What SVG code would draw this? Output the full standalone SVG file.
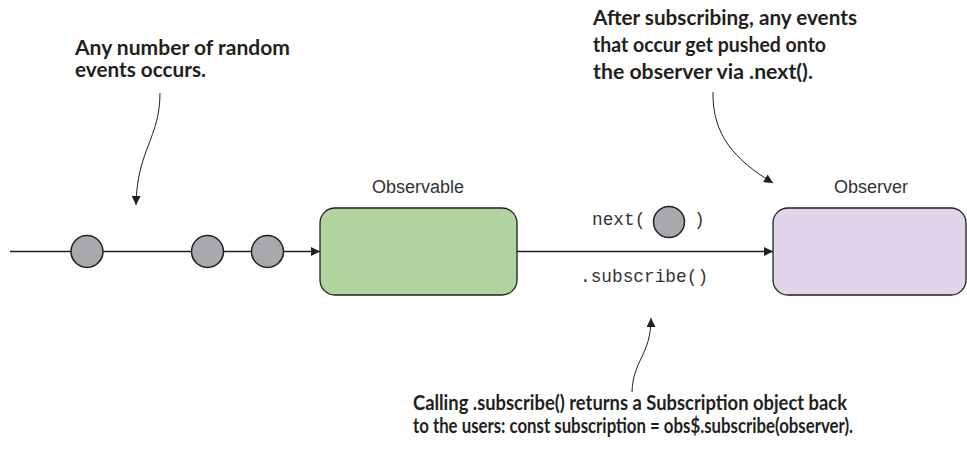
<svg xmlns="http://www.w3.org/2000/svg" width="967" height="468" viewBox="0 0 967 468">
<defs>
<marker id="ah" viewBox="0 0 10 10" refX="10" refY="5" markerWidth="11" markerHeight="9" markerUnits="userSpaceOnUse" orient="auto">
<path d="M0,0 L10,5 L0,10 Z" fill="#231f20"/>
</marker>
<style>
.note{font-family:Lato,"Open Sans","Liberation Sans",sans-serif;font-weight:bold;font-size:20px;fill:#231f20}
.lbl{font-family:"Liberation Sans",Arial,sans-serif;font-size:18px;fill:#333333}
.code{font-family:"Liberation Mono","Courier New",monospace;font-size:17.8px;fill:#333333}
.ev{fill:#a7a9ac;stroke:#231f20;stroke-width:1.5}
.wire{fill:none;stroke:#231f20;stroke-width:1.3}
.curve{fill:none;stroke:#231f20;stroke-width:1}
</style>
</defs>
<rect width="967" height="468" fill="#ffffff"/>
<g id="connectors">
<line class="wire" x1="10" y1="251.5" x2="320" y2="251.5" marker-end="url(#ah)"/>
<line class="wire" x1="517" y1="251.5" x2="773" y2="251.5" marker-end="url(#ah)"/>
<path class="curve" d="M160,93 C160,138 137,150 136,205" marker-end="url(#ah)"/>
<path class="curve" d="M713,92 C712,135 735,160 773,183" marker-end="url(#ah)"/>
<path class="curve" d="M632,392 C633,360 651,355 651,318" marker-end="url(#ah)"/>
</g>
<g id="events">
<circle class="ev" cx="87" cy="251.5" r="16"/>
<circle class="ev" cx="207.5" cy="251.5" r="16"/>
<circle class="ev" cx="267.5" cy="251.5" r="16"/>
</g>
<g id="observable">
<rect x="320" y="208" width="197" height="87" rx="15" fill="#b0d3a0" stroke="#231f20" stroke-width="1.3"/>
<text class="lbl" x="418" y="193" text-anchor="middle">Observable</text>
</g>
<g id="observer">
<rect x="773" y="208" width="193" height="87" rx="15" fill="#e0d5ea" stroke="#231f20" stroke-width="1.3"/>
<text class="lbl" x="871" y="193" text-anchor="middle">Observer</text>
</g>
<g id="labels">
<text class="code" x="592" y="225">next(</text>
<circle class="ev" cx="669" cy="222" r="15.5"/>
<text class="code" x="694" y="225">)</text>
<text class="code" x="580" y="282">.subscribe()</text>
</g>
<g id="note-events">
<text class="note" x="75" y="55" textLength="215" lengthAdjust="spacingAndGlyphs">Any number of random</text>
<text class="note" x="75" y="77" textLength="131" lengthAdjust="spacingAndGlyphs">events occurs.</text>
</g>
<g id="note-next">
<text class="note" x="593" y="25" textLength="264" lengthAdjust="spacingAndGlyphs">After subscribing, any events</text>
<text class="note" x="593" y="52" textLength="233" lengthAdjust="spacingAndGlyphs">that occur get pushed onto</text>
<text class="note" x="593" y="79" textLength="220" lengthAdjust="spacingAndGlyphs">the observer via .next().</text>
</g>
<g id="note-subscribe">
<text class="note" x="413" y="410" textLength="434" lengthAdjust="spacingAndGlyphs">Calling .subscribe() returns a Subscription object back</text>
<text class="note" x="413" y="433" textLength="440" lengthAdjust="spacingAndGlyphs">to the users: const subscription = obs$.subscribe(observer).</text>
</g>
</svg>
